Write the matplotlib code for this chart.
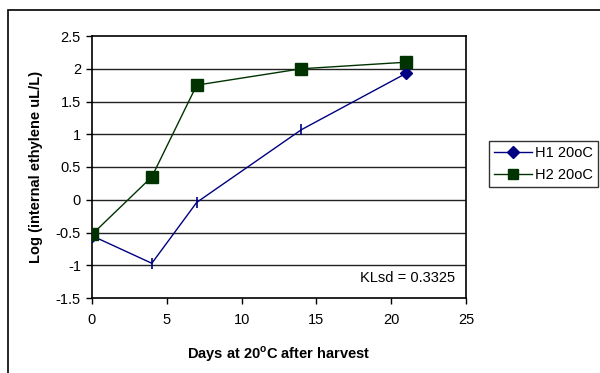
import matplotlib
matplotlib.use("Agg")
import matplotlib.pyplot as plt
from matplotlib.patches import Rectangle
from matplotlib.lines import Line2D

plt.rcParams['font.family'] = ['Liberation Sans', 'DejaVu Sans']
plt.rcParams['mathtext.fontset'] = 'custom'
plt.rcParams['mathtext.bf'] = 'Liberation Sans:bold'
plt.rcParams['mathtext.rm'] = 'Liberation Sans'

days = [0, 4, 7, 14, 21]
h1_values = [-0.55, -0.97, -0.04, 1.07, 1.93]
h2_values = [-0.53, 0.35, 1.75, 2.00, 2.10]
h1_err = [0.0, 0.08, 0.08, 0.08, 0.0]
series_labels = ["H1 20oC", "H2 20oC"]
x_ticks = [0, 5, 10, 15, 20, 25]
y_ticks = [-1.5, -1, -0.5, 0, 0.5, 1, 1.5, 2, 2.5]
y_tick_labels = ["-1.5", "-1", "-0.5", "0", "0.5", "1", "1.5", "2", "2.5"]
lsd_text = "KLsd = 0.3325"

fs = 10.5

fig = plt.figure(figsize=(6.0, 3.73), dpi=100)
ax = fig.add_axes([92 / 600, 1 - 298 / 373, (466 - 92) / 600, (298 - 36) / 373])

# outer chart frame
fig.patches.append(Rectangle((8 / 600, -0.05), 1.0, 1 - 10 / 373 + 0.05,
                             transform=fig.transFigure, fill=False,
                             edgecolor='black', linewidth=1.2, zorder=0))

ax.set_xlim(0, 25)
ax.set_ylim(-1.5, 2.5)
ax.set_xticks(x_ticks)
ax.set_yticks(y_ticks)
ax.set_yticklabels(y_tick_labels)
ax.tick_params(axis='both', labelsize=fs, direction='out', length=4, width=1, color='black')
ax.tick_params(axis='x', pad=7)
ax.tick_params(axis='y', pad=4)
for y in y_ticks[1:-1]:
    ax.axhline(y, color='#222222', linewidth=1.0, zorder=1)
for s in ax.spines.values():
    s.set_linewidth(1.2)
    s.set_color('black')

navy = '#000080'
green = '#003300'

ax.errorbar(days, h1_values, yerr=h1_err, fmt='none', ecolor=navy,
            elinewidth=1.2, capsize=0, zorder=3)
ax.plot(days, h1_values, color=navy, linewidth=1.0, marker='D',
        markersize=6, markevery=[0, 4], markerfacecolor=navy,
        markeredgecolor=navy, zorder=3)
ax.plot(days, h2_values, color=green, linewidth=1.0, marker='s',
        markersize=8, markerfacecolor=green, markeredgecolor=green, zorder=4)

ax.text(24.3, -1.2, lsd_text, ha='right', va='center', fontsize=fs)

ax.set_xlabel(r'Days at 20$^{\mathbf{o}}$C after harvest', fontsize=fs,
              fontweight='bold', labelpad=12)
ax.set_ylabel('Log (internal ethylene uL/L)', fontsize=fs, fontweight='bold',
              labelpad=9)

handles = [
    Line2D([], [], color=navy, linewidth=1.0, marker='D', markersize=6,
           markerfacecolor=navy, markeredgecolor=navy),
    Line2D([], [], color=green, linewidth=1.0, marker='s', markersize=7,
           markerfacecolor=green, markeredgecolor=green),
]
leg = fig.legend(handles=handles, labels=series_labels, loc='upper left',
                 bbox_to_anchor=(489 / 600, 1 - 141 / 373), fontsize=fs,
                 frameon=True, fancybox=False, edgecolor='black',
                 borderaxespad=0, handlelength=2.6, handletextpad=0.2,
                 borderpad=0.35, labelspacing=0.55, numpoints=1)
leg.get_frame().set_linewidth(1.0)

fig.savefig('out.png', dpi=100)
